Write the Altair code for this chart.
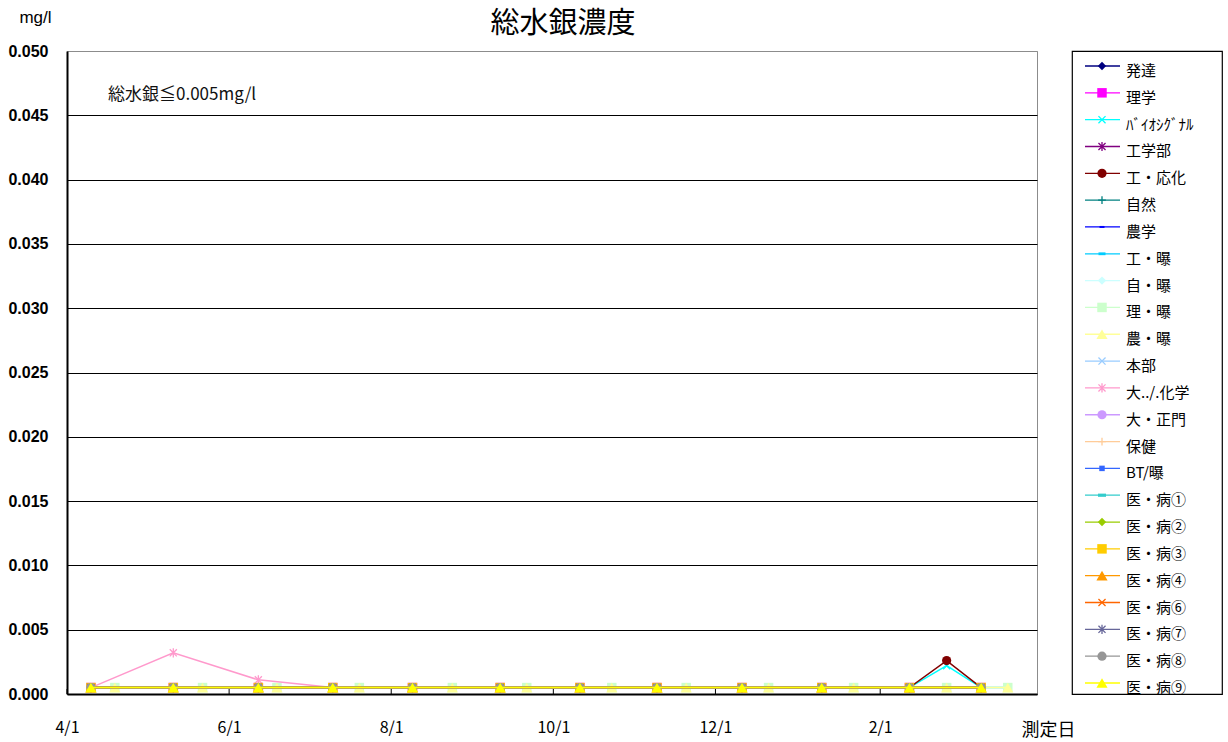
import altair as alt
import pandas as pd

# ---- measurement dates (fiscal year, April to March) ----
dates_a = ["2008-04-10", "2008-05-11", "2008-06-12", "2008-07-10", "2008-08-09", "2008-09-11",
           "2008-10-11", "2008-11-09", "2008-12-11", "2009-01-10", "2009-02-12", "2009-03-11"]
dates_b = ["2008-04-19", "2008-05-22", "2008-06-19", "2008-07-20", "2008-08-24", "2008-09-21",
           "2008-10-23", "2008-11-20", "2008-12-21", "2009-01-22", "2009-02-26", "2009-03-21"]
dates_c = ["2008-04-10", "2008-05-11", "2008-06-12", "2008-07-10", "2008-08-09", "2008-09-11",
           "2008-10-11", "2008-11-09", "2008-12-11", "2009-01-10", "2009-02-12", "2009-02-26",
           "2009-03-11"]

# ---- sampling points ----
series_names = ["発達", "理学", "ﾊﾞｲｵｼｸﾞﾅﾙ", "工学部", "工・応化", "自然", "農学", "工・曝",
                "自・曝", "理・曝", "農・曝", "本部", "大../.化学", "大・正門", "保健", "BT/曝",
                "医・病①", "医・病②", "医・病③", "医・病④", "医・病⑥", "医・病⑦", "医・病⑧", "医・病⑨"]

# which date list each sampling point uses
series_dates = ["a", "a", "c", "a", "c", "a", "a", "b",
                "b", "b", "b", "a", "a", "a", "a", "a",
                "a", "a", "a", "a", "a", "a", "a", "a"]

# total mercury, mg/l (values below the detection limit are plotted at 0.0005)
series_values = [
    [0.0005, 0.0005, 0.0005, 0.0005, 0.0005, 0.0005, 0.0005, 0.0005, 0.0005, 0.0005, 0.0005, 0.0005],
    [0.0005, 0.0005, 0.0005, 0.0005, 0.0005, 0.0005, 0.0005, 0.0005, 0.0005, 0.0005, 0.0005, 0.0005],
    [0.0005, 0.0005, 0.0005, 0.0005, 0.0005, 0.0005, 0.0005, 0.0005, 0.0005, 0.0005, 0.0005, 0.0022, 0.0005],
    [0.0005, 0.0005, 0.0005, 0.0005, 0.0005, 0.0005, 0.0005, 0.0005, 0.0005, 0.0005, 0.0005, 0.0005],
    [0.0005, 0.0005, 0.0005, 0.0005, 0.0005, 0.0005, 0.0005, 0.0005, 0.0005, 0.0005, 0.0005, 0.0026, 0.0005],
    [0.0005, 0.0005, 0.0005, 0.0005, 0.0005, 0.0005, 0.0005, 0.0005, 0.0005, 0.0005, 0.0005, 0.0005],
    [0.0005, 0.0005, 0.0005, 0.0005, 0.0005, 0.0005, 0.0005, 0.0005, 0.0005, 0.0005, 0.0005, 0.0005],
    [0.0005, 0.0005, 0.0005, 0.0005, 0.0005, 0.0005, 0.0005, 0.0005, 0.0005, 0.0005, 0.0005, 0.0005],
    [0.0005, 0.0005, 0.0005, 0.0005, 0.0005, 0.0005, 0.0005, 0.0005, 0.0005, 0.0005, 0.0005, 0.0005],
    [0.0005, 0.0005, 0.0005, 0.0005, 0.0005, 0.0005, 0.0005, 0.0005, 0.0005, 0.0005, 0.0005, 0.0005],
    [0.0005, 0.0005, 0.0005, 0.0005, 0.0005, 0.0005, 0.0005, 0.0005, 0.0005, 0.0005, 0.0005, 0.0005],
    [0.0005, 0.0005, 0.0005, 0.0005, 0.0005, 0.0005, 0.0005, 0.0005, 0.0005, 0.0005, 0.0005, 0.0005],
    [0.0005, 0.0032, 0.0011, 0.0005, 0.0005, 0.0005, 0.0005, 0.0005, 0.0005, 0.0005, 0.0005, 0.0005],
    [0.0005, 0.0005, 0.0005, 0.0005, 0.0005, 0.0005, 0.0005, 0.0005, 0.0005, 0.0005, 0.0005, 0.0005],
    [0.0005, 0.0005, 0.0005, 0.0005, 0.0005, 0.0005, 0.0005, 0.0005, 0.0005, 0.0005, 0.0005, 0.0005],
    [0.0005, 0.0005, 0.0005, 0.0005, 0.0005, 0.0005, 0.0005, 0.0005, 0.0005, 0.0005, 0.0005, 0.0005],
    [0.0005, 0.0005, 0.0005, 0.0005, 0.0005, 0.0005, 0.0005, 0.0005, 0.0005, 0.0005, 0.0005, 0.0005],
    [0.0005, 0.0005, 0.0005, 0.0005, 0.0005, 0.0005, 0.0005, 0.0005, 0.0005, 0.0005, 0.0005, 0.0005],
    [0.0005, 0.0005, 0.0005, 0.0005, 0.0005, 0.0005, 0.0005, 0.0005, 0.0005, 0.0005, 0.0005, 0.0005],
    [0.0005, 0.0005, 0.0005, 0.0005, 0.0005, 0.0005, 0.0005, 0.0005, 0.0005, 0.0005, 0.0005, 0.0005],
    [0.0005, 0.0005, 0.0005, 0.0005, 0.0005, 0.0005, 0.0005, 0.0005, 0.0005, 0.0005, 0.0005, 0.0005],
    [0.0005, 0.0005, 0.0005, 0.0005, 0.0005, 0.0005, 0.0005, 0.0005, 0.0005, 0.0005, 0.0005, 0.0005],
    [0.0005, 0.0005, 0.0005, 0.0005, 0.0005, 0.0005, 0.0005, 0.0005, 0.0005, 0.0005, 0.0005, 0.0005],
    [0.0005, 0.0005, 0.0005, 0.0005, 0.0005, 0.0005, 0.0005, 0.0005, 0.0005, 0.0005, 0.0005, 0.0005],
]

# ---- axis ticks ----
x_tick_dates = ["2008-04-01", "2008-06-01", "2008-08-01", "2008-10-01", "2008-12-01", "2009-02-01"]
x_domain = ["2008-04-01", "2009-04-01"]
y_ticks = [0.0, 0.005, 0.010, 0.015, 0.020, 0.025, 0.030, 0.035, 0.040, 0.045, 0.050]

# ---- series styling ----
series_colors = ["#000080", "#FF00FF", "#00FFFF", "#800080", "#800000", "#008080", "#0000FF", "#00CCFF",
                 "#CCFFFF", "#CCFFCC", "#FFFF99", "#99CCFF", "#FF99CC", "#CC99FF", "#FFCC99", "#3366FF",
                 "#33CCCC", "#99CC00", "#FFCC00", "#FF9900", "#FF6600", "#666699", "#969696", "#FFFF00"]
series_markers = ["diamond", "square", "x", "asterisk", "circle", "plus", "dash_s", "dash",
                  "diamond", "square", "triangle", "x", "asterisk", "circle", "plus", "smallsq",
                  "dash_l", "diamond", "square", "triangle", "x", "asterisk", "circle", "triangle"]

BAR = "M-1,-0.4L1,-0.4L1,0.4L-1,0.4Z"
MARKER_STYLE = {
    "diamond": dict(shape="diamond", filled=True, size=70),
    "square": dict(shape="square", filled=True, size=90),
    "triangle": dict(shape="triangle-up", filled=True, size=125),
    "circle": dict(shape="circle", filled=True, size=85),
    "x": dict(shape="M-1,-1L1,1M-1,1L1,-1", filled=False, size=50),
    "asterisk": dict(shape="M-1,-1L1,1M-1,1L1,-1M0,-1.3L0,1.3", filled=False, size=50),
    "plus": dict(shape="M-1,0L1,0M0,-1L0,1", filled=False, size=60),
    "dash_s": dict(shape=BAR, filled=True, size=25),
    "dash": dict(shape=BAR, filled=True, size=49),
    "dash_l": dict(shape=BAR, filled=True, size=64),
    "smallsq": dict(shape="square", filled=True, size=30),
}

JP = "Noto Sans CJK JP"
W, H = 970, 643


def dt(s):
    y, m, d = (int(v) for v in s.split("-"))
    return alt.DateTime(year=y, month=m, date=d, utc=True)


x_scale = alt.Scale(type="utc", domain=[dt(s) for s in x_domain], nice=False)
y_scale = alt.Scale(domain=[0, 0.05], nice=False, zero=True)

x_axis = alt.Axis(
    values=[dt(s) for s in x_tick_dates],
    labelExpr="utcFormat(datum.value, '%-m/%-d')",
    grid=False, ticks=False, domainColor="black", domainWidth=2,
    labelPadding=25, labelFont=JP, labelFontSize=16, labelColor="black",
    labelFlush=False, labelOverlap=False,
    title="測定日", titleX=981, titleY=36, titleAlign="center", titleBaseline="middle",
    titleFont=JP, titleFontSize=18, titleFontWeight="normal", titleColor="black",
)
y_axis = alt.Axis(
    values=y_ticks, format=".3f", grid=True, gridWidth=1,
    gridColor={"condition": {"test": "datum.value >= 0.0499", "value": "#8c8c8c"}, "value": "black"},
    ticks=False, domainColor="black", domainWidth=2,
    labelPadding=19, labelFont="Liberation Sans", labelFontSize=16, labelFontWeight="bold",
    labelColor="black", labelFlush=False, labelOverlap=False,
    title="mg/l", titleAngle=0, titleX=-32, titleY=-34, titleAlign="center", titleBaseline="middle",
    titleFont="Liberation Sans", titleFontSize=17, titleFontWeight="normal", titleColor="black",
)

X = alt.X("date:T", scale=x_scale, axis=x_axis)
Y = alt.Y("value:Q", scale=y_scale, axis=y_axis)

date_lists = {"a": dates_a, "b": dates_b, "c": dates_c}

layers = []
# inward tick marks on the date axis
ticks_df = pd.DataFrame({"date": x_tick_dates})
layers.append(
    alt.Chart(ticks_df).mark_rule(color="black", strokeWidth=1)
    .encode(x=X, y=alt.value(H - 5), y2=alt.value(H))
)

for name, key, vals, color, marker in zip(series_names, series_dates, series_values,
                                          series_colors, series_markers):
    df = pd.DataFrame({"date": date_lists[key], "value": vals, "name": name})
    st = MARKER_STYLE[marker]
    layers.append(alt.Chart(df).mark_line(color=color, strokeWidth=1.5).encode(x=X, y=Y))
    layers.append(
        alt.Chart(df).mark_point(shape=st["shape"], filled=st["filled"], size=st["size"],
                                 color=color, opacity=1, strokeWidth=1.3)
        .encode(x=X, y=Y)
    )

note = alt.Chart(pd.DataFrame({"t": ["総水銀≦0.005mg/l"]})).mark_text(
    align="left", baseline="middle", font=JP, fontSize=17, color="#111111"
).encode(x=alt.value(41), y=alt.value(44), text="t:N")
layers.append(note)

main = alt.layer(*layers).properties(
    width=W, height=H,
    title=alt.TitleParams("総水銀濃度", font=JP, fontSize=29, fontWeight="normal",
                          color="black", offset=-31, dx=11),
    view=alt.ViewBackground(stroke="#8c8c8c", strokeWidth=1),
)

# ---- legend panel ----
LY = alt.Y("name:N", scale=alt.Scale(type="point", domain=series_names, range=[15, 632], padding=0),
           axis=None)
leg_layers = []
for name, color, marker in zip(series_names, series_colors, series_markers):
    row = pd.DataFrame({"name": [name]})
    st = MARKER_STYLE[marker]
    leg_layers.append(
        alt.Chart(row).mark_rule(color=color, strokeWidth=1.3)
        .encode(x=alt.value(13), x2=alt.value(48), y=LY)
    )
    leg_layers.append(
        alt.Chart(row).mark_point(shape=st["shape"], filled=st["filled"], size=st["size"],
                                  color=color, opacity=1, strokeWidth=1.3)
        .encode(x=alt.value(30), y=LY)
    )
leg_layers.append(
    alt.Chart(pd.DataFrame({"name": series_names})).mark_text(
        align="left", baseline="middle", dy=5, font=JP, fontSize=15, color="black"
    ).encode(x=alt.value(54), y=LY, text="name:N")
)
legend = alt.layer(*leg_layers).properties(
    width=150, height=H,
    view=alt.ViewBackground(stroke="black", strokeWidth=1.2),
)

chart = alt.hconcat(main, legend, spacing=35, bounds="flush").properties(
    padding={"left": 7, "top": 7, "right": 5, "bottom": 3},
    background="white",
).configure(font=JP)

chart.save("out.html", embed_options={"renderer": "svg", "actions": False})
